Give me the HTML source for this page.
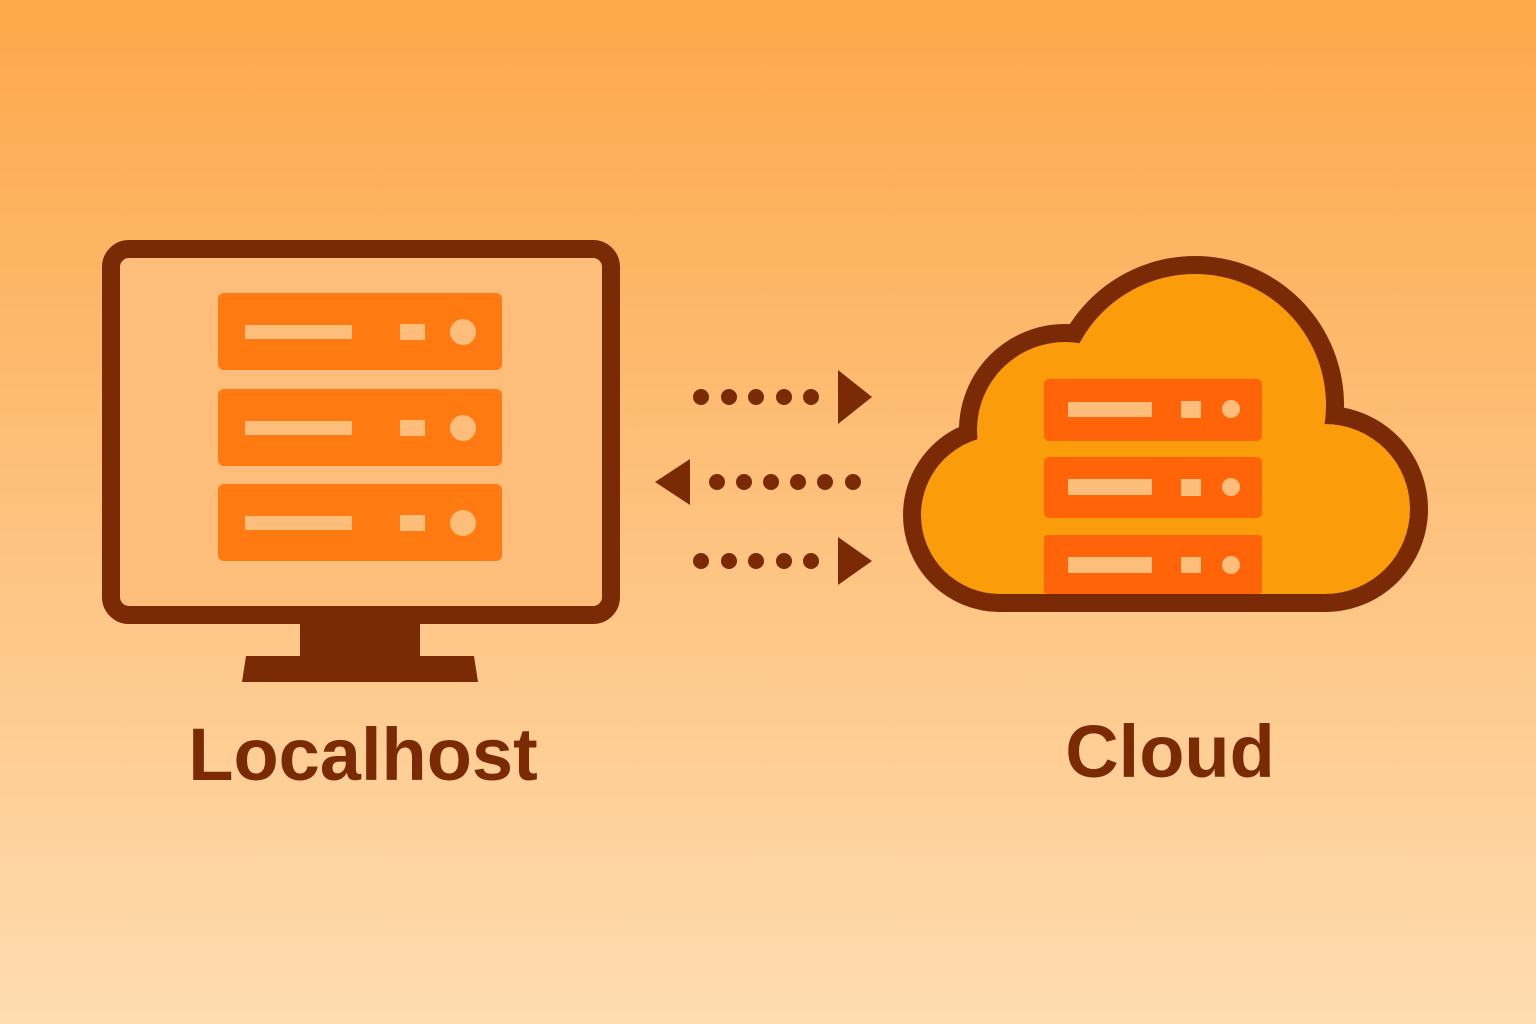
<!DOCTYPE html>
<html><head><meta charset="utf-8"><style>
html,body{margin:0;padding:0}
body{width:1536px;height:1024px;overflow:hidden;background:linear-gradient(180deg,#fda84a 0%,#fdbf78 45%,#fedcb0 100%);}
svg{position:absolute;left:0;top:0}
text{font-family:"Liberation Sans",sans-serif;font-weight:bold;fill:#7a2a05}
</style></head><body>
<svg width="1536" height="1024" viewBox="0 0 1536 1024">
<rect x="111" y="249" width="500" height="366" rx="18" fill="#fdbe7c" stroke="#7a2a05" stroke-width="18"/>
<rect x="300" y="622" width="120" height="36" fill="#7a2a05"/>
<polygon points="246,656 474,656 478,682 242,682" fill="#7a2a05"/>
<g fill="#ff7a10">
<rect x="218" y="293" width="284" height="77" rx="6"/>
<rect x="218" y="389" width="284" height="77" rx="6"/>
<rect x="218" y="484" width="284" height="77" rx="6"/>
</g>
<g fill="#fdbe7c">
<rect x="245" y="325" width="107" height="14"/><rect x="400" y="324" width="25" height="16"/><circle cx="463" cy="332" r="13"/>
<rect x="245" y="421" width="107" height="14"/><rect x="400" y="420" width="25" height="16"/><circle cx="463" cy="428" r="13"/>
<rect x="245" y="516" width="107" height="14"/><rect x="400" y="515" width="25" height="16"/><circle cx="463" cy="523" r="13"/>
</g>
<g fill="#7a2a05">
<circle cx="701" cy="397" r="8"/><circle cx="729" cy="397" r="8"/><circle cx="756" cy="397" r="8"/><circle cx="784" cy="397" r="8"/><circle cx="811" cy="397" r="8"/>
<polygon points="838,370 872,397 838,424"/>
<polygon points="690,459 655,482 690,505"/>
<circle cx="717" cy="482" r="8"/><circle cx="744" cy="482" r="8"/><circle cx="771" cy="482" r="8"/><circle cx="798" cy="482" r="8"/><circle cx="825" cy="482" r="8"/><circle cx="853" cy="482" r="8"/>
<circle cx="701" cy="561" r="8"/><circle cx="729" cy="561" r="8"/><circle cx="756" cy="561" r="8"/><circle cx="784" cy="561" r="8"/><circle cx="811" cy="561" r="8"/>
<polygon points="838,537 872,561 838,585"/>
</g>
<g fill="#7a2a05" stroke="#7a2a05" stroke-width="36" stroke-linejoin="round">
<rect x="1000" y="450" width="325" height="144"/>
<circle cx="1000" cy="515" r="79"/>
<circle cx="1065" cy="430" r="88"/>
<circle cx="1195" cy="405" r="131"/>
<circle cx="1325" cy="509" r="85"/>
</g>
<g fill="#fb9c0a">
<rect x="1000" y="450" width="325" height="144"/>
<circle cx="1000" cy="515" r="79"/>
<circle cx="1065" cy="430" r="88"/>
<circle cx="1195" cy="405" r="131"/>
<circle cx="1325" cy="509" r="85"/>
</g>
<g fill="#ff6408">
<rect x="1044" y="379" width="218" height="62" rx="5"/>
<rect x="1044" y="457" width="218" height="61" rx="5"/>
<rect x="1044" y="535" width="218" height="59" rx="3"/>
</g>
<g fill="#fdbe7c">
<rect x="1068" y="402" width="84" height="15"/><rect x="1181" y="401" width="20" height="17"/><circle cx="1231" cy="409" r="9"/>
<rect x="1068" y="479" width="84" height="16"/><rect x="1181" y="479" width="20" height="17"/><circle cx="1231" cy="487" r="9"/>
<rect x="1068" y="557" width="84" height="16"/><rect x="1181" y="557" width="20" height="16"/><circle cx="1231" cy="565" r="9"/>
</g>
<text x="363" y="780" font-size="74" text-anchor="middle">Localhost</text>
<text x="1170" y="777" font-size="74" text-anchor="middle">Cloud</text>
</svg>
</body></html>
